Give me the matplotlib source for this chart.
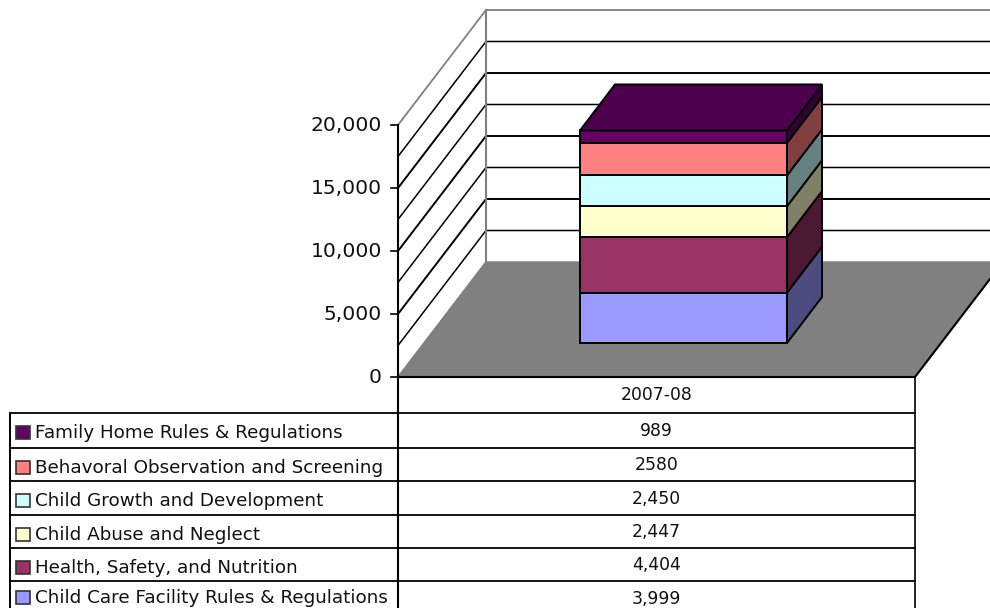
#! /usr/bin/env python
import matplotlib as mpl

mpl.use('Agg')

import matplotlib.pyplot as plt
from matplotlib.patches import Polygon, Rectangle

# bottom of the stack first
categories = ['Child Care Facility Rules & Regulations',
              'Health, Safety, and Nutrition',
              'Child Abuse and Neglect',
              'Child Growth and Development',
              'Behavoral Observation and Screening',
              'Family Home Rules & Regulations']
values = [3999, 4404, 2447, 2450, 2580, 989]
value_labels = ['3,999', '4,404', '2,447', '2,450', '2580', '989']
period = '2007-08'
y_ticks = [0, 5000, 10000, 15000, 20000]
gridlines = [2500, 5000, 7500, 10000, 12500, 15000, 17500]

colors = ['#9999FF', '#993366', '#FFFFCC', '#CCFFFF', '#FF8080', '#660066']
side_colors = ['#4C4C80', '#4C1933', '#808066', '#668080', '#804040', '#330033']
top_color = '#4D004D'

GRAY = '#808080'
FONT = 'DejaVu Sans'

# chart geometry, in pixels
X0, X1 = 398, 915
Y0 = 377
PX_PER_UNIT = 63.0 / 5000
DX, DY = 88, 115
BAR_L, BAR_R = 580, 787
BAR_DX, BAR_DY = 35, 46
BAR_Y0 = 343
YMAX = 20000
ROW_TOPS = [413, 448, 481, 514.5, 548, 581]


def vy(value, base=Y0):
    return base - value * PX_PER_UNIT


def main():
    fig = plt.figure(figsize=(9.9, 6.08), dpi=100)
    ax = fig.add_axes([0, 0, 1, 1])
    ax.set_xlim(0, 990)
    ax.set_ylim(608, 0)
    ax.axis('off')

    # floor
    ax.add_patch(Polygon([(X0, Y0), (X1, Y0), (X1 + DX, Y0 - DY), (X0 + DX, Y0 - DY)],
                         facecolor=GRAY, edgecolor=GRAY, lw=1, zorder=1))

    # walls and gridlines
    top = vy(YMAX)
    for i, v in enumerate(gridlines):
        ax.plot([X0, X0 + DX, 990], [vy(v), vy(v) - DY, vy(v) - DY], color='black',
                lw=1.4 if i % 2 else 1.1, zorder=2)
    ax.plot([X0, X0 + DX, 990], [top, top - DY, top - DY], color=GRAY, lw=1.3, zorder=2)
    ax.plot([X0 + DX, X0 + DX], [top - DY, Y0 - DY], color=GRAY, lw=1.5, zorder=2)
    ax.plot([X0, X0 + DX], [Y0, Y0 - DY], color=GRAY, lw=1, zorder=2)

    # stacked bar
    bottom = 0
    for val, col, side in zip(values, colors, side_colors):
        y_lo, y_hi = vy(bottom, BAR_Y0), vy(bottom + val, BAR_Y0)
        ax.add_patch(Polygon([(BAR_L, y_lo), (BAR_R, y_lo), (BAR_R, y_hi), (BAR_L, y_hi)],
                             facecolor=col, edgecolor='black', lw=1.4, zorder=4))
        ax.add_patch(Polygon([(BAR_R, y_lo), (BAR_R + BAR_DX, y_lo - BAR_DY),
                              (BAR_R + BAR_DX, y_hi - BAR_DY), (BAR_R, y_hi)],
                             facecolor=side, edgecolor='black', lw=1.4, zorder=4))
        bottom += val
    y_top = vy(bottom, BAR_Y0)
    ax.add_patch(Polygon([(BAR_L, y_top), (BAR_R, y_top), (BAR_R + BAR_DX, y_top - BAR_DY),
                          (BAR_L + BAR_DX, y_top - BAR_DY)],
                         facecolor=top_color, edgecolor='black', lw=1.4, zorder=4))

    # value axis
    ax.plot([X0, X0], [top, 608], color='black', lw=1.5, zorder=3)
    for v in y_ticks:
        ax.plot([X0 - 7, X0], [vy(v), vy(v)], color='black', lw=1.2, zorder=3)
        ax.text(X0 - 16, vy(v) + 6, '{:,}'.format(v), ha='right', va='baseline',
                family=FONT, fontsize=14.6, color='#111111')

    # floor front and right edges
    ax.plot([X0, X1, X1 + DX], [Y0, Y0, Y0 - DY], color='black', lw=1.5, zorder=3)

    # data table
    ax.plot([X1, X1], [Y0, 608], color='black', lw=1.2, zorder=3)
    ax.plot([10, 10], [413, 608], color='black', lw=1.4, zorder=3)
    ax.text((X0 + X1) / 2, 400, period, ha='center', va='baseline', family=FONT, fontsize=12.4,
            color='#111111')

    rows = list(zip(categories, value_labels, colors))[::-1]
    for ytop, (name, label, col) in zip(ROW_TOPS, rows):
        ax.plot([10, X1], [ytop, ytop], color='black', lw=1.3, zorder=3)
        # last row has to stay inside the picture
        base = min(ytop + 25, 603)
        ax.add_patch(Rectangle((16, base - 12), 14, 13, facecolor=col, edgecolor='#333333',
                               lw=1.2, zorder=3))
        ax.text(35, base, name, ha='left', va='baseline', family=FONT, fontsize=13.2,
                color='#111111')
        ax.text((X0 + X1) / 2, ytop + 22.5, label, ha='center', va='baseline', family=FONT,
                fontsize=12.4, color='#111111')

    fig.savefig('out.png', dpi=100, facecolor='white')


if __name__ == '__main__':
    main()
